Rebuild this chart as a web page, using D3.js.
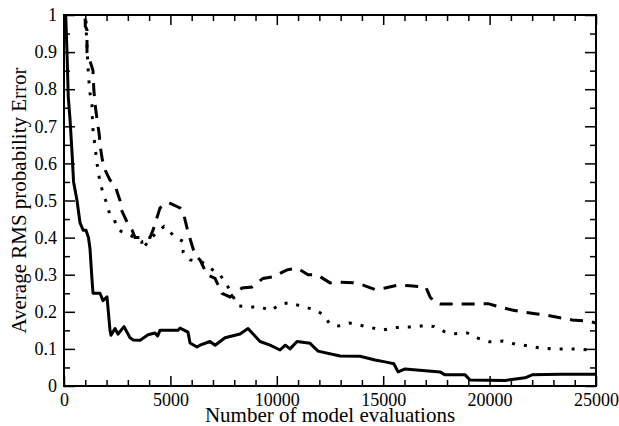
<!DOCTYPE html>
<html>
<head>
<meta charset="utf-8">
<script src="https://cdn.jsdelivr.net/npm/d3@7"></script>
<style>
  body { margin: 0; background: #fff; }
  svg { display: block; }
  .tick text { font-family: "Liberation Serif", "Times New Roman", serif; font-size: 18px; fill: #000; }
  .axis-title { font-family: "Liberation Serif", "Times New Roman", serif; font-size: 21px; fill: #000; }
</style>
</head>
<body>
<svg id="chart" width="619" height="426"></svg>
<script>
// solid curve: [evaluations, error]
const solidSeries = [
  [50,1.05],[141,0.9],[200,0.78],[282,0.72],[376,0.63],[450,0.55],[611,0.5],[752,0.44],[900,0.42],
  [1034,0.42],[1150,0.4],[1222,0.37],[1300,0.3],[1363,0.25],[1550,0.25],[1692,0.25],[1833,0.23],
  [2021,0.24],[2162,0.15],[2209,0.137],[2397,0.155],[2538,0.14],[2820,0.16],[3102,0.13],[3250,0.124],
  [3572,0.123],[3948,0.138],[4277,0.143],[4400,0.135],[4512,0.15],[5358,0.15],[5450,0.156],[5828,0.145],
  [5922,0.116],[6251,0.105],[6392,0.11],[6862,0.12],[7100,0.11],[7567,0.13],[8272,0.14],[8648,0.155],
  [9212,0.12],[9682,0.11],[10152,0.097],[10400,0.11],[10622,0.1],[10951,0.12],[11562,0.115],[11938,0.094],
  [12972,0.081],[13912,0.08],[14617,0.07],[15087,0.065],[15500,0.06],[15698,0.038],[16027,0.046],
  [17672,0.038],[17907,0.03],[18847,0.03],[19082,0.016],[20727,0.015],[21667,0.022],[21996,0.03],
  [23312,0.032],[25000,0.032]
];

// dashed curve
const dashedSeries = [
  [980,1.05],[1000,0.97],[1080,0.96],[1080,0.9],[1200,0.88],[1363,0.85],[1400,0.8],[1457,0.76],
  [1550,0.72],[1650,0.68],[1720,0.64],[1800,0.61],[1950,0.58],[2162,0.555],[2400,0.54],[2632,0.5],
  [2700,0.474],[2961,0.442],[3200,0.42],[3337,0.4],[3700,0.4],[4042,0.4],[4183,0.42],[4512,0.48],
  [4888,0.495],[5452,0.48],[5593,0.47],[5828,0.415],[6157,0.353],[6392,0.34],[6721,0.3],[7097,0.29],
  [7426,0.25],[7802,0.24],[8366,0.264],[8836,0.267],[9353,0.29],[9823,0.294],[10481,0.313],
  [10951,0.318],[11468,0.3],[11891,0.3],[12502,0.278],[12878,0.28],[13583,0.278],[14053,0.272],
  [14617,0.26],[15087,0.264],[15698,0.272],[16262,0.27],[17000,0.267],[17202,0.24],[17437,0.224],
  [17672,0.221],[18847,0.221],[19317,0.221],[19928,0.222],[20492,0.213],[21056,0.205],[21526,0.2],
  [22231,0.194],[22748,0.19],[23406,0.183],[23876,0.178],[24581,0.175],[25000,0.17]
];

// dotted curve
const dottedSeries = [
  [1000,1.05],[1050,0.95],[1128,0.86],[1175,0.82],[1222,0.79],[1316,0.757],[1330,0.725],[1363,0.69],
  [1450,0.65],[1550,0.6],[1692,0.55],[1833,0.52],[2021,0.49],[2162,0.46],[2350,0.45],[2550,0.42],
  [3000,0.41],[3650,0.39],[3700,0.37],[4100,0.4],[4700,0.43],[5250,0.4],[5593,0.39],[5600,0.36],
  [5922,0.34],[6486,0.334],[6862,0.318],[7332,0.3],[7661,0.272],[8178,0.216],[8800,0.213],
  [9300,0.212],[9700,0.203],[10150,0.22],[10600,0.225],[11150,0.215],[11700,0.207],[12150,0.194],
  [12500,0.167],[12900,0.162],[13400,0.17],[13900,0.164],[14450,0.157],[15000,0.151],[15500,0.157],
  [16000,0.159],[16500,0.159],[17000,0.164],[17400,0.16],[17900,0.146],[18400,0.141],[18950,0.143],
  [19450,0.129],[20000,0.119],[20600,0.121],[21200,0.113],[21800,0.108],[22400,0.102],[23000,0.1],
  [23600,0.1],[24150,0.1],[24750,0.097],[25000,0.097]
];

const xMajorTicks = [0, 5000, 10000, 15000, 20000, 25000];
const xMinorTicks = [1000,2000,3000,4000,6000,7000,8000,9000,11000,12000,13000,14000,16000,17000,18000,19000,21000,22000,23000,24000];
const yMajorTicks = [0, 0.1, 0.2, 0.3, 0.4, 0.5, 0.6, 0.7, 0.8, 0.9, 1];
const yMinorTicks = [0.05, 0.15, 0.25, 0.35, 0.45, 0.55, 0.65, 0.75, 0.85, 0.95];

const svg = d3.select('#chart');
const margin = { left: 64, top: 15, right: 23, bottom: 40 };
const width = 619 - margin.left - margin.right;   // 532
const height = 426 - margin.top - margin.bottom;  // 371

const g = svg.append('g').attr('transform', `translate(${margin.left},${margin.top})`);

const x = d3.scaleLinear().domain([0, 25000]).range([0, width]);
const y = d3.scaleLinear().domain([0, 1]).range([height, 0]);

g.append('clipPath').attr('id', 'plotclip')
  .append('rect').attr('width', width).attr('height', height);

//lines
const line = d3.line().x(d => x(d[0])).y(d => y(d[1]));
const lines = g.append('g').attr('clip-path', 'url(#plotclip)');

lines.append('path').datum(dottedSeries)
  .attr('d', line).attr('fill', 'none').attr('stroke', '#000')
  .attr('stroke-width', 3).attr('stroke-dasharray', '3,9');

lines.append('path').datum(dashedSeries)
  .attr('d', line).attr('fill', 'none').attr('stroke', '#000')
  .attr('stroke-width', 3).attr('stroke-dasharray', '13,9');

lines.append('path').datum(solidSeries)
  .attr('d', line).attr('fill', 'none').attr('stroke', '#000')
  .attr('stroke-width', 3).attr('stroke-linejoin', 'round');

//axes, ticks point inward
function styleAxis(sel) {
  sel.select('.domain').remove();
  sel.selectAll('.tick line').attr('stroke', '#000').attr('stroke-width', 1.5);
}

g.append('g').attr('transform', `translate(0,${height})`)
  .call(d3.axisBottom(x).tickValues(xMajorTicks).tickSize(-10).tickPadding(7).tickFormat(d3.format('d')))
  .call(styleAxis);
g.append('g').attr('transform', `translate(0,${height})`)
  .call(d3.axisBottom(x).tickValues(xMinorTicks).tickSize(-6).tickFormat(''))
  .call(styleAxis);
g.append('g')
  .call(d3.axisTop(x).tickValues(xMajorTicks).tickSize(-10).tickFormat(''))
  .call(styleAxis);
g.append('g')
  .call(d3.axisTop(x).tickValues(xMinorTicks).tickSize(-6).tickFormat(''))
  .call(styleAxis);

g.append('g')
  .call(d3.axisLeft(y).tickValues(yMajorTicks).tickSize(-11).tickPadding(7).tickFormat(d3.format('~g')))
  .call(styleAxis);
g.append('g')
  .call(d3.axisLeft(y).tickValues(yMinorTicks).tickSize(-6).tickFormat(''))
  .call(styleAxis);
g.append('g').attr('transform', `translate(${width},0)`)
  .call(d3.axisRight(y).tickValues(yMajorTicks).tickSize(-11).tickFormat(''))
  .call(styleAxis);
g.append('g').attr('transform', `translate(${width},0)`)
  .call(d3.axisRight(y).tickValues(yMinorTicks).tickSize(-6).tickFormat(''))
  .call(styleAxis);

// frame
g.append('rect').attr('width', width).attr('height', height)
  .attr('fill', 'none').attr('stroke', '#000').attr('stroke-width', 2);

// titles
svg.append('text').attr('class', 'axis-title')
  .attr('x', margin.left + width / 2).attr('y', 422)
  .attr('text-anchor', 'middle')
  .text('Number of model evaluations');

svg.append('text').attr('class', 'axis-title')
  .attr('transform', `translate(26,${margin.top + height / 2}) rotate(-90)`)
  .attr('text-anchor', 'middle')
  .text('Average RMS probability Error');
</script>
</body>
</html>
